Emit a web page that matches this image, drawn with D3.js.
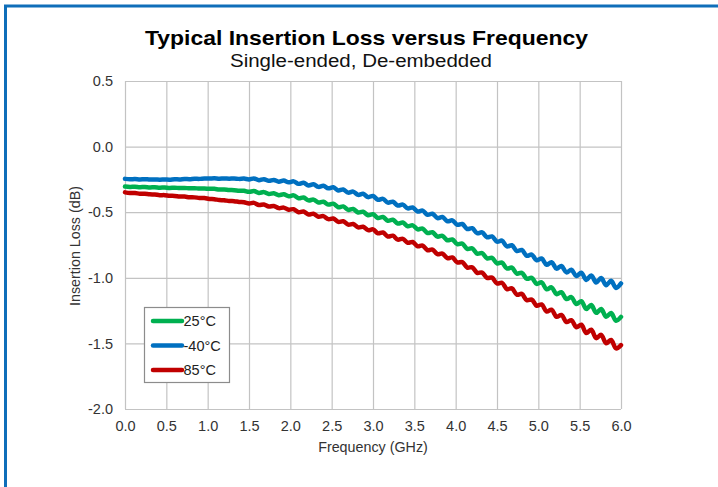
<!DOCTYPE html>
<html>
<head>
<meta charset="utf-8">
<script src="https://cdn.jsdelivr.net/npm/d3@7"></script>
<style>
  html, body { margin: 0; padding: 0; background: #fff; }
  svg { display: block; font-family: "Liberation Sans", Arial, sans-serif; }
</style>
</head>
<body>
<svg id="chart" width="718" height="487"></svg>
<script>
// ---------- data ----------
const titleText = "Typical Insertion Loss versus Frequency";
const subtitleText = "Single-ended, De-embedded";
const xAxisTitle = "Frequency (GHz)";
const yAxisTitle = "Insertion Loss (dB)";

const xTickValues = [0, 0.5, 1, 1.5, 2, 2.5, 3, 3.5, 4, 4.5, 5, 5.5, 6];
const xTickLabels = ["0.0","0.5","1.0","1.5","2.0","2.5","3.0","3.5","4.0","4.5","5.0","5.5","6.0"];
const yTickValues = [0.5, 0, -0.5, -1, -1.5, -2];
const yTickLabels = ["0.5","0.0","-0.5","-1.0","-1.5","-2.0"];

const seriesNames = ["25°C", "-40°C", "85°C"];

const frequency = [0,0.06,0.12,0.18,0.24,0.3,0.36,0.42,0.48,0.54,0.6,0.66,0.72,0.78,0.84,0.9,0.96,
  1.02,1.08,1.14,1.2,1.26,1.32,1.38,1.44,1.5,1.56,1.62,1.68,1.74,1.8,1.86,1.92,1.98,
  2.04,2.1,2.16,2.22,2.28,2.34,2.4,2.46,2.52,2.58,2.64,2.7,2.76,2.82,2.88,2.94,
  3,3.06,3.12,3.18,3.24,3.3,3.36,3.42,3.48,3.54,3.6,3.66,3.72,3.78,3.84,3.9,3.96,
  4.02,4.08,4.14,4.2,4.26,4.32,4.38,4.44,4.5,4.56,4.62,4.68,4.74,4.8,4.86,4.92,4.98,
  5.04,5.1,5.16,5.22,5.28,5.34,5.4,5.46,5.52,5.58,5.64,5.7,5.76,5.82,5.88,5.94,6];

const loss25 = [-0.304,-0.307,-0.306,-0.309,-0.308,-0.311,-0.310,-0.313,-0.312,-0.315,-0.313,-0.316,-0.315,-0.318,-0.317,-0.320,-0.319,
  -0.322,-0.322,-0.327,-0.327,-0.331,-0.332,-0.336,-0.337,-0.345,-0.339,-0.353,-0.347,-0.361,-0.355,-0.370,-0.364,-0.378,
  -0.372,-0.394,-0.388,-0.410,-0.404,-0.426,-0.420,-0.442,-0.435,-0.462,-0.456,-0.482,-0.476,-0.502,-0.497,-0.523,
  -0.516,-0.544,-0.537,-0.565,-0.558,-0.586,-0.579,-0.607,-0.600,-0.631,-0.625,-0.659,-0.653,-0.686,-0.680,-0.714,-0.708,
  -0.744,-0.740,-0.780,-0.776,-0.816,-0.812,-0.852,-0.848,-0.890,-0.884,-0.929,-0.923,-0.968,-0.962,-1.007,-1.001,-1.047,
  -1.035,-1.088,-1.073,-1.125,-1.110,-1.162,-1.147,-1.200,-1.178,-1.237,-1.208,-1.267,-1.238,-1.297,-1.268,-1.327,-1.298];

const lossMinus40 = [-0.246,-0.249,-0.247,-0.250,-0.248,-0.251,-0.250,-0.252,-0.251,-0.252,-0.249,-0.250,-0.247,-0.248,-0.245,-0.246,-0.243,
  -0.244,-0.242,-0.245,-0.243,-0.245,-0.243,-0.246,-0.244,-0.250,-0.243,-0.256,-0.248,-0.261,-0.254,-0.267,-0.259,-0.272,
  -0.265,-0.284,-0.276,-0.296,-0.287,-0.307,-0.299,-0.318,-0.310,-0.334,-0.327,-0.351,-0.343,-0.368,-0.360,-0.385,
  -0.376,-0.405,-0.398,-0.427,-0.420,-0.449,-0.442,-0.471,-0.464,-0.495,-0.488,-0.520,-0.512,-0.545,-0.537,-0.569,-0.562,
  -0.596,-0.590,-0.628,-0.622,-0.660,-0.654,-0.691,-0.685,-0.725,-0.717,-0.761,-0.752,-0.796,-0.788,-0.832,-0.823,-0.867,
  -0.853,-0.901,-0.881,-0.930,-0.910,-0.959,-0.939,-0.987,-0.961,-1.016,-0.982,-1.036,-1.002,-1.056,-1.023,-1.077,-1.043];

const loss85 = [-0.349,-0.354,-0.354,-0.359,-0.360,-0.364,-0.365,-0.370,-0.370,-0.375,-0.376,-0.380,-0.381,-0.386,-0.387,-0.391,-0.392,
  -0.399,-0.401,-0.407,-0.409,-0.415,-0.416,-0.422,-0.424,-0.433,-0.429,-0.445,-0.441,-0.457,-0.453,-0.469,-0.465,-0.481,
  -0.477,-0.500,-0.495,-0.518,-0.512,-0.535,-0.530,-0.553,-0.548,-0.574,-0.569,-0.595,-0.590,-0.616,-0.611,-0.637,
  -0.631,-0.661,-0.655,-0.685,-0.679,-0.709,-0.703,-0.733,-0.727,-0.760,-0.755,-0.790,-0.785,-0.820,-0.815,-0.850,-0.845,
  -0.883,-0.880,-0.922,-0.920,-0.962,-0.960,-1.001,-0.999,-1.043,-1.038,-1.086,-1.081,-1.128,-1.123,-1.170,-1.166,-1.213,
  -1.203,-1.257,-1.243,-1.297,-1.283,-1.337,-1.323,-1.377,-1.358,-1.421,-1.396,-1.460,-1.435,-1.499,-1.474,-1.538,-1.513];

// ---------- layout / style ----------
const W = 718, H = 487;
const plot = { left: 125, right: 621, top: 81, bottom: 409 };
const colors = ["#00B050", "#0070C0", "#C00000"];
const gridColor = "#C3C3C3";
const labelColor = "#333333";
const FONT = "Liberation Sans, Arial, sans-serif";

const series = [
  { name: seriesNames[0], values: loss25, color: colors[0] },
  { name: seriesNames[1], values: lossMinus40, color: colors[1] },
  { name: seriesNames[2], values: loss85, color: colors[2] }
];

const svg = d3.select("#chart");

// frame (blue border on left/top)
svg.append("rect").attr("x", 0).attr("y", 0).attr("width", W).attr("height", H).attr("fill", "#fff");
svg.append("line").attr("x1", 5.5).attr("x2", 5.5).attr("y1", 5).attr("y2", H)
  .attr("stroke", "#0F6EB9").attr("stroke-width", 3);
svg.append("line").attr("x1", 4).attr("x2", W).attr("y1", 6).attr("y2", 6)
  .attr("stroke", "#0F6EB9").attr("stroke-width", 3);

const x = d3.scaleLinear().domain([0, 6]).range([plot.left, plot.right]);
const y = d3.scaleLinear().domain([-2, 0.5]).range([plot.bottom, plot.top]);

// gridlines
const gridX = svg.append("g").attr("transform", `translate(0,${plot.bottom})`)
  .call(d3.axisBottom(x).tickValues(xTickValues).tickSize(-(plot.bottom - plot.top)).tickFormat(""));
gridX.select(".domain").remove();
gridX.selectAll("line").attr("stroke", gridColor).attr("stroke-width", 1.2);

const gridY = svg.append("g").attr("transform", `translate(${plot.left},0)`)
  .call(d3.axisLeft(y).tickValues(yTickValues).tickSize(-(plot.right - plot.left)).tickFormat(""));
gridY.select(".domain").remove();
gridY.selectAll("line").attr("stroke", gridColor).attr("stroke-width", 1.2);

// axis labels
const xAxis = svg.append("g").attr("transform", `translate(0,${plot.bottom})`)
  .call(d3.axisBottom(x).tickValues(xTickValues).tickSize(0).tickPadding(12)
    .tickFormat((d, i) => xTickLabels[i]));
xAxis.select(".domain").remove();
xAxis.selectAll("text").attr("font-size", 14.5).attr("fill", labelColor).attr("font-family", FONT);

const yAxis = svg.append("g").attr("transform", `translate(${plot.left},0)`)
  .call(d3.axisLeft(y).tickValues(yTickValues).tickSize(0).tickPadding(12)
    .tickFormat((d, i) => yTickLabels[i]));
yAxis.select(".domain").remove();
yAxis.selectAll("text").attr("font-size", 14.5).attr("fill", labelColor).attr("font-family", FONT);

// series lines
const line = d3.line()
  .x((d, i) => x(frequency[i]))
  .y(d => y(d))
  .curve(d3.curveCatmullRom.alpha(0.5));

svg.append("g").selectAll("path").data(series).join("path")
  .attr("d", d => line(d.values))
  .attr("fill", "none")
  .attr("stroke", d => d.color)
  .attr("stroke-width", 4.5)
  .attr("stroke-linejoin", "round")
  .attr("stroke-linecap", "round");

// titles
svg.append("text").attr("x", 145).attr("y", 45)
  .attr("font-size", 21).attr("font-weight", "bold").attr("fill", "#000")
  .attr("textLength", 443).attr("lengthAdjust", "spacingAndGlyphs").text(titleText);
svg.append("text").attr("x", 230).attr("y", 67)
  .attr("font-size", 17.5).attr("fill", "#111")
  .attr("textLength", 262).attr("lengthAdjust", "spacingAndGlyphs").text(subtitleText);

svg.append("text").attr("x", (plot.left + plot.right) / 2).attr("y", 452).attr("text-anchor", "middle")
  .attr("font-size", 14.3).attr("fill", labelColor).text(xAxisTitle);
svg.append("text")
  .attr("transform", `translate(80,${(plot.top + plot.bottom) / 2 + 1}) rotate(-90)`)
  .attr("text-anchor", "middle").attr("font-size", 14.3).attr("fill", labelColor).text(yAxisTitle);

// legend
const legend = svg.append("g");
legend.append("rect").attr("x", 144.5).attr("y", 307.5).attr("width", 85).attr("height", 75)
  .attr("fill", "#fff").attr("stroke", "#8C8C8C").attr("stroke-width", 1.2);
const legendY = d3.scalePoint().domain(seriesNames).range([321, 370]);
const items = legend.selectAll("g.item").data(series).join("g").attr("class", "item")
  .attr("transform", d => `translate(0,${legendY(d.name)})`);
items.append("line").attr("x1", 153).attr("x2", 182).attr("y1", 0).attr("y2", 0)
  .attr("stroke", d => d.color).attr("stroke-width", 4.5).attr("stroke-linecap", "round");
items.append("text").attr("x", 183.5).attr("y", 0).attr("dy", "0.36em")
  .attr("font-size", 14.5).attr("fill", "#222").text(d => d.name);
</script>
</body>
</html>
